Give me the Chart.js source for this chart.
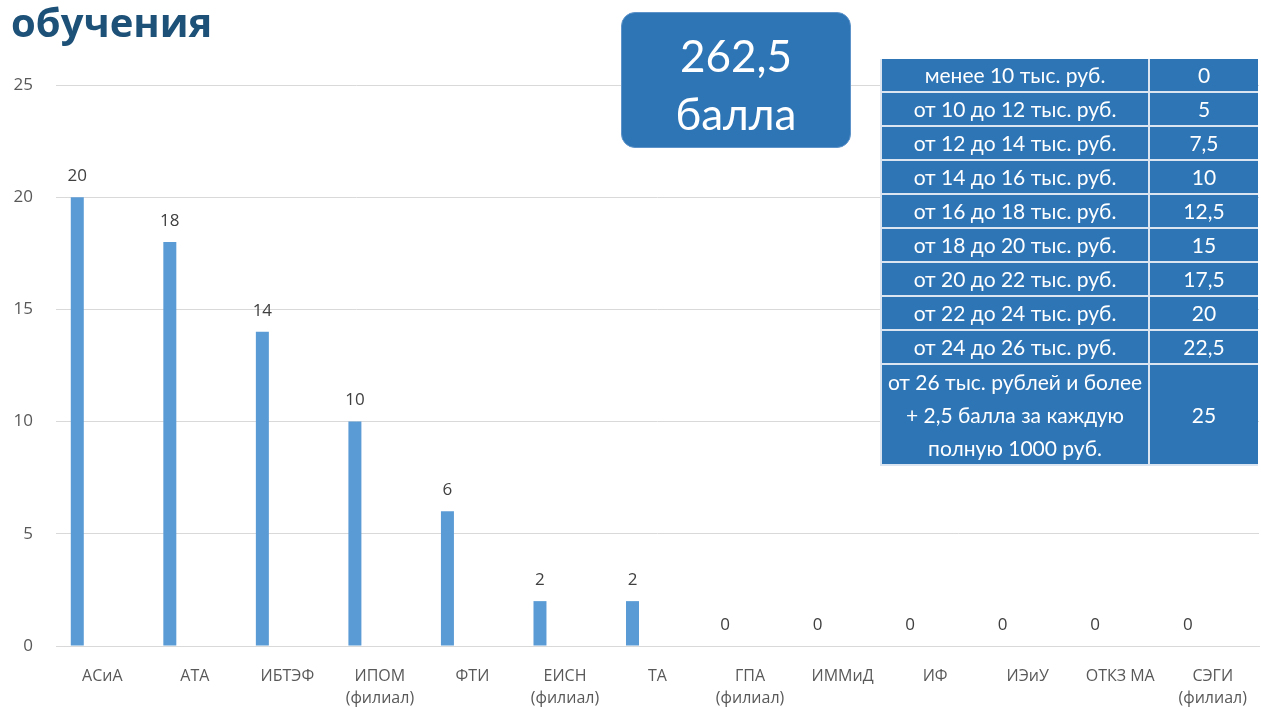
<!DOCTYPE html>
<html><head><meta charset="utf-8">
<script src="https://cdn.jsdelivr.net/npm/chart.js@4/dist/chart.umd.min.js"></script>
<style>
html,body{margin:0;padding:0;background:#fff;width:1261px;height:707px;overflow:hidden;}
#wrap{position:absolute;left:0;top:0;width:1261px;height:707px;}
#title{position:absolute;left:11px;top:2px;font:bold 40px "Open Sans",sans-serif;line-height:40px;color:#1d5177;}
#box{position:absolute;left:621px;top:12px;width:228px;height:134px;background:#2e75b6;border:1px solid #5d93c9;border-radius:14px;color:#fff;font:44px Lato,"Open Sans",sans-serif;text-align:center;}
#box div{position:absolute;left:0;width:100%;line-height:50px;}
#tbl{position:absolute;left:880px;top:59px;border-collapse:collapse;font:21px Lato,"Open Sans",sans-serif;color:#fff;}
#tbl td{background:#2e75b6;border:2px solid #dbe5f1;text-align:center;padding:0;height:32px;line-height:24px;}
#tbl td.a{width:266px;}
#tbl td.b{width:108px;}
#tbl tr:first-child td{border-top:none}
#tbl td.b{border-right:none}
</style></head>
<body>
<div id="wrap"><canvas id="c" width="1261" height="707"></canvas></div>
<div id="title">обучения</div>
<div id="box"><div style="top:17px">262,5</div><div style="top:75px">балла</div></div>
<table id="tbl"></table>
<script>
const categories = [["АСиА"],["АТА"],["ИБТЭФ"],["ИПОМ","(филиал)"],["ФТИ"],["ЕИСН","(филиал)"],["ТА"],["ГПА","(филиал)"],["ИММиД"],["ИФ"],["ИЭиУ"],["ОТКЗ МА"],["СЭГИ","(филиал)"]];
const values = [20,18,14,10,6,2,2,0,0,0,0,0,0];
const emptySeries = [null,null,null,null,null,null,null,null,null,null,null,null,null];
const yTicks = [0,5,10,15,20,25];
const tableRanges = ["менее 10 тыс. руб.","от 10 до 12 тыс. руб.","от 12 до 14 тыс. руб.","от 14 до 16 тыс. руб.","от 16 до 18 тыс. руб.","от 18 до 20 тыс. руб.","от 20 до 22 тыс. руб.","от 22 до 24 тыс. руб.","от 24 до 26 тыс. руб.","от 26 тыс. рублей и более<br>+ 2,5 балла за каждую<br>полную 1000 руб."];
const tablePoints = ["0","5","7,5","10","12,5","15","17,5","20","22,5","25"];

const tbl = document.getElementById('tbl');
tableRanges.forEach((r,i)=>{
  const tr=document.createElement('tr');
  tr.innerHTML='<td class="a">'+r+'</td><td class="b">'+tablePoints[i]+'</td>';
  if(i===tableRanges.length-1){tr.querySelectorAll('td').forEach(td=>{td.style.height='97px';td.style.lineHeight='33px';});}
  tbl.appendChild(tr);
});

const labelPlugin = {
  id:'vals',
  afterDatasetsDraw(chart){
    const ctx=chart.ctx; const meta=chart.getDatasetMeta(0);
    ctx.save(); ctx.fillStyle='#404040'; ctx.font='17px "Open Sans", sans-serif';
    ctx.textAlign='center'; ctx.textBaseline='middle';
    meta.data.forEach((bar,i)=>{ ctx.fillText(String(values[i]), bar.x, bar.y-21); });
    ctx.restore();
  }
};

new Chart(document.getElementById('c'),{
  type:'bar',
  data:{labels:categories,datasets:[
    {data:values,backgroundColor:'#5b9bd5',categoryPercentage:0.81,barPercentage:0.52},
    {data:emptySeries,backgroundColor:'#ed7d31',categoryPercentage:0.81,barPercentage:0.52},
    {data:emptySeries,backgroundColor:'#a5a5a5',categoryPercentage:0.81,barPercentage:0.52}
  ]},
  options:{
    responsive:false,animation:false,
    layout:{padding:{top:85,right:2,left:0,bottom:0}},
    plugins:{legend:{display:false},tooltip:{enabled:false}},
    scales:{
      x:{grid:{display:false},border:{color:'#d9d9d9'},
        ticks:{color:'#595959',font:{size:16,family:'"Open Sans", sans-serif',lineHeight:1.4},padding:11,maxRotation:0,autoSkip:false},
        afterFit(s){s.height=61;}},
      y:{min:0,max:25,afterBuildTicks(s){s.ticks=yTicks.map(v=>({value:v}));},
        grid:{color:'#d9d9d9',drawTicks:false},border:{display:false},
        ticks:{color:'#595959',font:{size:17,family:'"Open Sans", sans-serif'},padding:23},
        afterFit(s){s.width=56;}}
    }
  },
  plugins:[labelPlugin]
});
</script>
</body></html>
